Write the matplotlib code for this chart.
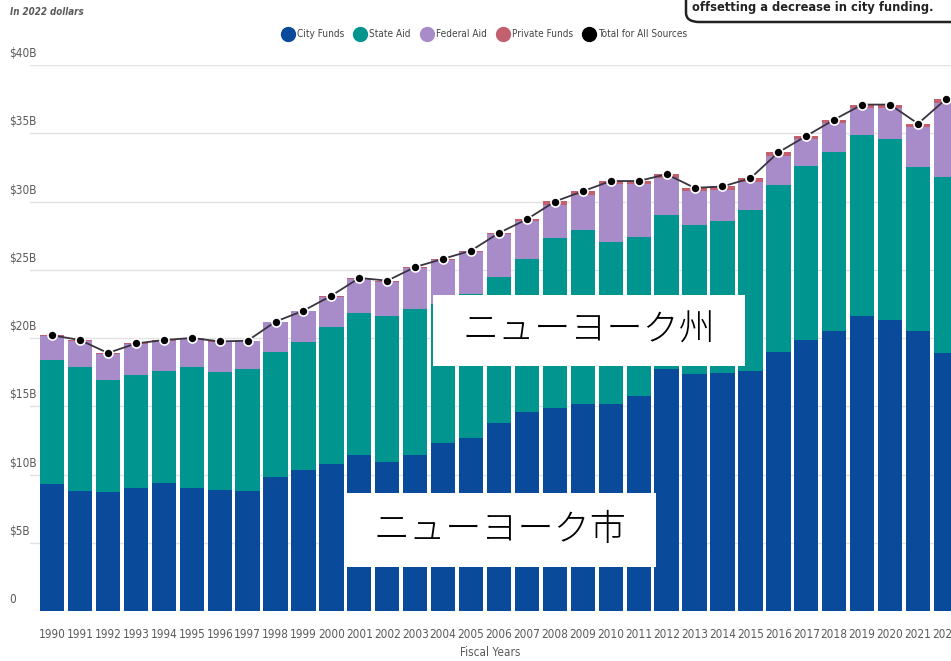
"""NYC education funding by source, FY1990-2022 (in 2022 dollars), stacked bars + total line."""
import numpy as np
import matplotlib
matplotlib.use("Agg")
import matplotlib.pyplot as plt  # noqa: E402
from matplotlib.lines import Line2D  # noqa: E402
from matplotlib.patches import FancyBboxPatch, Rectangle  # noqa: E402

plt.rcParams["font.family"] = ["DejaVu Sans"]
plt.rcParams["font.stretch"] = "condensed"

years = list(range(1990, 2023))
city = [9.3, 8.8, 8.75, 9.0, 9.4, 9.0, 8.9, 8.8, 9.85, 10.3, 10.8, 11.4, 10.9, 11.4, 12.3,
        12.65, 13.75, 14.55, 14.9, 15.2, 15.2, 15.75, 17.7, 17.35, 17.4, 17.55, 19.0, 19.85,
        20.5, 21.6, 21.3, 20.5, 18.9]
state = [9.1, 9.1, 8.15, 8.3, 8.2, 8.9, 8.6, 8.9, 9.15, 9.4, 10.0, 10.45, 10.7, 10.7, 10.2,
         10.55, 10.75, 11.25, 12.4, 12.7, 11.8, 11.65, 11.3, 10.95, 11.2, 11.85, 12.2, 12.75,
         13.1, 13.3, 13.3, 12.0, 12.9]
federal = [1.75, 1.9, 1.95, 2.25, 2.2, 2.05, 2.2, 2.05, 2.15, 2.25, 2.2, 2.45, 2.5, 3.0, 3.2,
           3.1, 3.1, 2.8, 2.45, 2.6, 4.25, 3.85, 2.75, 2.45, 2.25, 2.05, 2.15, 1.95, 2.15,
           1.95, 2.25, 2.95, 5.45]
private = [0.05] * 10 + [0.1] * 8 + [0.25] * 15
total = [20.2, 19.85, 18.9, 19.6, 19.85, 20.0, 19.75, 19.8, 21.2, 22.0, 23.1, 24.4, 24.2,
         25.2, 25.8, 26.4, 27.7, 28.7, 30.0, 30.75, 31.5, 31.5, 32.0, 31.0, 31.1, 31.7, 33.6,
         34.8, 36.0, 37.1, 37.1, 35.7, 37.5]
yticks = [0, 5, 10, 15, 20, 25, 30, 35, 40]
ytick_labels = ["0", "$5B", "$10B", "$15B", "$20B", "$25B", "$30B", "$35B", "$40B"]

C_CITY, C_STATE, C_FED, C_PRIV = "#0a4a9b", "#00968f", "#a88cc9", "#c2606f"
GRAY = "#5a5a5a"
W, H = 951, 661

fig = plt.figure(figsize=(W / 100, H / 100), dpi=100)
ax = fig.add_axes([30 / W, 50 / H, 921 / W, 546 / H])

x = np.arange(len(years))
bw = 0.87
bottom = np.zeros(len(years))
for vals, col in [(city, C_CITY), (state, C_STATE), (federal, C_FED), (private, C_PRIV)]:
    ax.bar(x, vals, bw, bottom=bottom, color=col, edgecolor="none", zorder=2)
    bottom += np.array(vals)
ax.plot(x, total, color="#3a3340", lw=1.3, zorder=3,
        marker="o", ms=6.5, mfc="black", mec="white", mew=1.2)

ax.set_xlim(-0.79, 32.18)
ax.set_ylim(0, 40)
ax.set_yticks(yticks)
ax.set_yticklabels([])
ax.grid(axis="y", color="#e2e2e2", lw=1, zorder=0)
for s in ax.spines.values():
    s.set_visible(False)
ax.tick_params(axis="both", length=0)
ax.tick_params(axis="x", pad=12, labelsize=8.5, labelcolor=GRAY)
ax.set_xticks(x)
ax.set_xticklabels([str(y) for y in years])
for v, lab in zip(yticks, ytick_labels):
    ax.text(-21 / 921, v + 0.35, lab, transform=ax.get_yaxis_transform(), ha="left",
            va="bottom", fontsize=8.5, color=GRAY)

fig.text(490 / W, 1 - 653 / H, "Fiscal Years", ha="center", va="center", fontsize=8.5,
         color=GRAY)
fig.text(10 / W, 1 - 12 / H, "In 2022 dollars", ha="left", va="center", fontsize=7,
         color=GRAY, style="italic", weight="bold")

handles = [Line2D([], [], ls="none", marker="o", ms=10, mfc=c, mec=c)
           for c in [C_CITY, C_STATE, C_FED, C_PRIV, "black"]]
fig.legend(handles, ["City Funds", "State Aid", "Federal Aid", "Private Funds",
                     "Total for All Sources"],
           loc="center", bbox_to_anchor=(485 / W, 1 - 34 / H), ncol=5, frameon=False,
           fontsize=7.2, handletextpad=0.4, columnspacing=1.1, handlelength=1.0,
           labelcolor="#444444")

# clipped annotation box top right
fig.add_artist(FancyBboxPatch((686 / W, 1 - 22 / H), 0.4, 0.1,
                              boxstyle="round,pad=0,rounding_size=0.014",
                              transform=fig.transFigure, fc="white", ec="#222222", lw=1.8))
fig.text(692 / W, 1 - 11 / H, "offsetting a decrease in city funding.", ha="left",
         va="baseline", fontsize=9.2, weight="bold", color="#222222")

# Japanese overlay labels
for (x0, y0, x1, y1), lab in [((433, 295, 745, 366), "ニューヨーク州"),
                              ((344, 493, 656, 567), "ニューヨーク市")]:
    fig.add_artist(Rectangle((x0 / W, 1 - y1 / H), (x1 - x0) / W, (y1 - y0) / H,
                             transform=fig.transFigure, fc="white", ec="none", zorder=5))
    fig.text((x0 + x1) / 2 / W, 1 - (y0 + y1) / 2 / H, lab, ha="center", va="center",
             fontsize=26, family=["Noto Sans CJK JP"], weight="light", color="black",
             zorder=6)

fig.savefig("out.png", dpi=100)
